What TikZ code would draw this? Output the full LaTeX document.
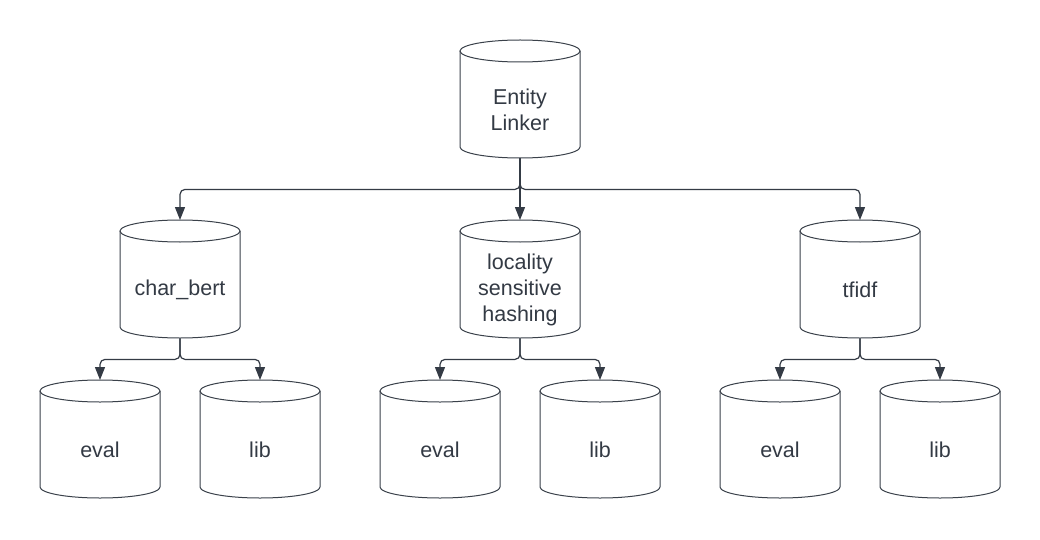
\documentclass[tikz,border=0pt]{standalone}
\usepackage{fontspec}
\setmainfont{Liberation Sans}
\usetikzlibrary{arrows.meta}
\definecolor{txt}{HTML}{333A44}
\definecolor{edge}{HTML}{3A414A}
\definecolor{conn}{HTML}{343B45}
\tikzset{
  cylbox/.style={minimum width=120pt, minimum height=118pt, inner sep=0pt, anchor=north, text=txt},
  cyltext/.style={text=txt, font=\fontsize{21.5}{26}\selectfont, align=center},
  cyloutline/.style={draw=edge, line width=1pt},
  connector/.style={draw=conn, line width=1.2pt, rounded corners=5pt,
    -{Triangle[length=13pt,width=10pt]}},
}
\newcommand{\mycyl}[4]{%
  % #1 name, #2 cx, #3 top, #4 text
  \node[cylbox] (#1) at (#2,#3) {};
  \draw[cyloutline] (#2-60,#3+11) -- (#2-60,#3+107)
     arc[start angle=180, end angle=0, x radius=60, y radius=11]
     -- (#2+60,#3+11);
  \draw[cyloutline] (#2,#3+11) ellipse [x radius=60, y radius=11];
  \node[cyltext] (#1t) at (#2,#3+70) {#4};
}
\begin{document}
\begin{tikzpicture}[x=1pt,y=-1pt]
\useasboundingbox (0,0) rectangle (1040,540);
\fill[white] (0,0) rectangle (1040,540);

\mycyl{el}{520}{40}{Entity\\Linker}
\mycyl{cb}{180}{220}{char\_bert}
\mycyl{lsh}{520}{220}{locality\\sensitive\\hashing}
\mycyl{tf}{860}{220}{tfidf}
\mycyl{cbe}{100}{380}{eval}
\mycyl{cbl}{260}{380}{lib}
\mycyl{lshe}{440}{380}{eval}
\mycyl{lshl}{600}{380}{lib}
\mycyl{tfe}{780}{380}{eval}
\mycyl{tfl}{940}{380}{lib}

\draw[connector] (el.south) -- ++(0,31) -| (cb.north);
\draw[connector] (el.south) -- (lsh.north);
\draw[connector] (el.south) -- ++(0,31) -| (tf.north);

\foreach \p/\a/\b in {cb/cbe/cbl, lsh/lshe/lshl, tf/tfe/tfl}{
  \draw[connector] (\p.south) -- ++(0,21) -| (\a.north);
  \draw[connector] (\p.south) -- ++(0,21) -| (\b.north);
}
\end{tikzpicture}
\end{document}
